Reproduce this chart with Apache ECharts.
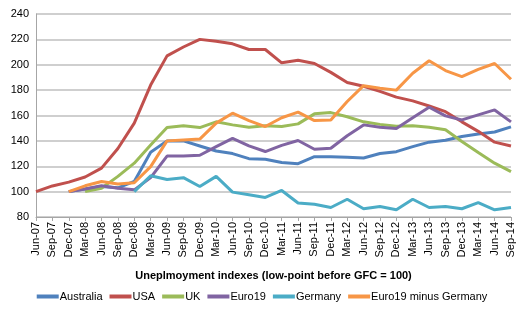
<!DOCTYPE html>
<html>
<head>
<meta charset="utf-8">
<script src="https://cdn.jsdelivr.net/npm/echarts@6/dist/echarts.min.js"></script>
<style>html,body{margin:0;padding:0;background:#fff;}#c{width:524px;height:324px;}</style>
</head>
<body>
<div id="c"></div>
<script>
const categories = ['Jun-07','Sep-07','Dec-07','Mar-08','Jun-08','Sep-08','Dec-08','Mar-09','Jun-09','Sep-09','Dec-09','Mar-10','Jun-10','Sep-10','Dec-10','Mar-11','Jun-11','Sep-11','Dec-11','Mar-12','Jun-12','Sep-12','Dec-12','Mar-13','Jun-13','Sep-13','Dec-13','Mar-14','Jun-14','Sep-14'];
const australia = [null,null,100,102,104,103,108,131,140,140,136,132,130,126,125.5,123,122,127.5,127.5,127,126.5,130,131.5,135.5,139,140.5,143.5,145.5,147,151];
const usa = [100,104.5,107.5,111.5,118.5,134,154,184,207,214,220,218.5,216.5,212,212,201.5,203.5,201,194,186,183,179,174.5,171.5,167.5,163,155,147.5,139,136];
const uk = [null,null,null,100,102.7,112,122.4,136.8,150.5,152,150.5,155,152.6,150.8,152,151.3,153.4,161.3,162.3,159,155,153,151.5,152,150.8,148.7,139.5,130.8,122.4,115.8];
const euro19 = [null,null,100,102,104.6,102.7,101.4,111,128,128,128.7,135.5,142,136,131.6,136.5,140.3,133.4,134.2,144,152.6,150.8,149.7,158.3,166.5,159.7,156.5,160.5,164.4,155];
const germany = [null,null,null,null,null,null,100,112.5,109.5,111,104,112,99.6,97.5,95.4,100.9,91,90,87.5,94,86.5,88.3,85.7,94,87.5,88.3,86.5,91.4,85.7,87.5];
const euro19ExGermany = [null,null,100,104.6,108,106,107,119.7,140,140.7,141.4,154,161.8,156,151.3,158.2,162.6,156,156.5,171,183.5,181.5,180,193.3,203.2,195.4,190.6,196.4,201,188.6];
const yTicks = {min: 80, max: 240, interval: 20};

const names = ['Australia','USA','UK','Euro19','Germany','Euro19 minus Germany'];
const datas = [australia, usa, uk, euro19, germany, euro19ExGermany];
const colors = ['#4F81BD','#C0504D','#9BBB59','#8064A2','#4BACC6','#F79646'];
const font = 'Liberation Sans';

const chart = echarts.init(document.getElementById('c'), null, {renderer: 'canvas'});
chart.setOption({
  animation: false,
  textStyle: {fontFamily: font},
  grid: {left: 36, right: 13, top: 14, bottom: 107, containLabel: false},
  legend: {
    data: names.map((n,i)=>({name:n, icon:'rect'})),
    bottom: 17, left: 'center',
    itemWidth: 22, itemHeight: 4, itemGap: 7,
    textStyle: {fontSize: 11, color: '#000', fontFamily: font, padding: [0,0,0,-4]}
  },
  xAxis: {
    type: 'category', data: categories, boundaryGap: false,
    name: 'Uneplmoyment indexes (low-point before GFC = 100)',
    nameLocation: 'middle', nameGap: 53,
    nameTextStyle: {fontSize: 11, fontWeight: 'bold', color: '#000', fontFamily: font},
    axisLine: {lineStyle: {color: '#a6a6a6', width: 1}},
    axisTick: {show: true, alignWithLabel: true, length: 4, lineStyle: {color: '#a6a6a6'}},
    axisLabel: {rotate: 90, fontSize: 11, color: '#000', interval: 0, margin: 5, fontFamily: font},
    splitLine: {show: false}
  },
  yAxis: {
    type: 'value', min: yTicks.min, max: yTicks.max, interval: yTicks.interval,
    axisLine: {show: true, lineStyle: {color: '#a6a6a6'}},
    axisTick: {show: false},
    axisLabel: {fontSize: 11, color: '#000', margin: 7, fontFamily: font},
    splitLine: {lineStyle: {color: '#bfbfbf', width: 1.5}}
  },
  series: names.map((n,i)=>({
    name: n, type: 'line', data: datas[i], symbol: 'none',
    lineStyle: {width: 3, color: colors[i]}, itemStyle: {color: colors[i]}
  }))
});
</script>
</body>
</html>
